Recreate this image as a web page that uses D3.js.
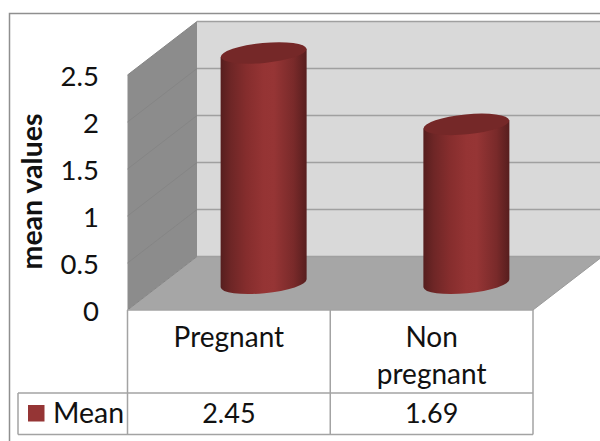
<!DOCTYPE html>
<html>
<head>
<meta charset="utf-8">
<script src="https://cdn.jsdelivr.net/npm/d3@7"></script>
<style>
html,body{margin:0;padding:0;background:#fff}
svg{display:block}
text{font-family:Lato,"Open Sans",sans-serif;fill:#111}
</style>
</head>
<body>
<svg id="chart" width="600" height="441"></svg>
<script>
// Mean values per group
const categories = [["Pregnant"], ["Non", "pregnant"]];
const categoryKeys = ["Pregnant", "Non pregnant"];
const seriesName = "Mean";
const meanValues = [2.45, 1.69];
const valueLabels = ["2.45", "1.69"];
const yTicks = [0, 0.5, 1, 1.5, 2, 2.5];

const svg = d3.select("#chart");
const W = 600, H = 441;

// Projection of the box: front plane, back plane and the depth step between them
const frontLeft = 127.5, frontRight = 533, frontBase = 310, frontTop = 75;
const depthX = 69.5, depthY = -53.5;
const yFront = d3.scaleLinear().domain([0, 2.5]).range([frontBase, frontTop]);
const yBack = d3.scaleLinear().domain([0, 2.5]).range([frontBase + depthY, frontTop + depthY]);
const yMid = d3.scaleLinear().domain([0, 2.5]).range([frontBase + depthY / 2, frontTop + depthY / 2]);
const x = d3.scaleBand().domain(categoryKeys).range([frontLeft, frontRight]);

const line = d3.line();
const grid = "#a3a3a3";

// Outer chart frame, open at the bottom and running off the right edge
svg.append("path").attr("d", line([[W + 5, 13.5], [9.5, 13.5], [9.5, H + 5]]))
  .attr("fill", "none").attr("stroke", "#8f8f8f").attr("stroke-width", 1.5);

// Back wall
svg.append("rect")
  .attr("x", frontLeft + depthX).attr("y", yBack(2.5))
  .attr("width", W - frontLeft - depthX + 5).attr("height", yBack(0) - yBack(2.5))
  .attr("fill", "#d9d9d9");

// Side wall
svg.append("path")
  .attr("d", line([[frontLeft, yFront(2.5)], [frontLeft + depthX, yBack(2.5)], [frontLeft + depthX, yBack(0)], [frontLeft, yFront(0)]]) + "Z")
  .attr("fill", "#8c8c8c");

// Floor
svg.append("path")
  .attr("d", line([[frontLeft, frontBase], [frontLeft + depthX, yBack(0)], [frontRight + depthX, yBack(0)], [frontRight, frontBase]]) + "Z")
  .attr("fill", "#a6a6a6");

// Gridlines along the back wall and down the side wall
svg.append("g").selectAll("line").data(yTicks).join("line")
  .attr("x1", frontLeft + depthX).attr("x2", W + 5)
  .attr("y1", d => yBack(d)).attr("y2", d => yBack(d))
  .attr("stroke", "#a0a0a0").attr("stroke-width", 1.5);
svg.append("g").selectAll("line").data(yTicks).join("line")
  .attr("x1", frontLeft).attr("x2", frontLeft + depthX)
  .attr("y1", d => yFront(d)).attr("y2", d => yBack(d))
  .attr("stroke", "#858585").attr("stroke-width", 1);

// Sloping front edge of the floor on the right
svg.append("path")
  .attr("d", line([[frontRight, frontBase], [frontRight + depthX, yBack(0)]]))
  .attr("fill", "none").attr("stroke", "#9a9a9a").attr("stroke-width", 1);

// Shading across the cylinder body
const defs = svg.append("defs");
const body = defs.append("linearGradient").attr("id", "cylBody");
[[0, "#561e1e"], [0.12, "#6e2626"], [0.3, "#852d2d"], [0.5, "#953434"], [0.62, "#963535"], [0.85, "#792a2a"], [1, "#571e1e"]]
  .forEach(([o, c]) => body.append("stop").attr("offset", o).attr("stop-color", c));

// Cylinders stand half way into the box; their ends are tilted ellipses
const rx = 43, ry = 10, tilt = -5.5;
const t = tilt * Math.PI / 180;
const endDy = rx * Math.sin(t);

const bars = svg.append("g").selectAll("g").data(meanValues).join("g")
  .attr("transform", (d, i) => `translate(${x(categoryKeys[i]) + x.bandwidth() / 2 + depthX / 2},0)`);

bars.append("path")
  .attr("d", d => {
    const yt = yMid(d), yb = yMid(0);
    return `M${-rx},${yt - endDy}L${rx},${yt + endDy}L${rx},${yb + endDy}`
      + `A${rx},${ry} ${tilt} 0 1 ${-rx},${yb - endDy}Z`;
  })
  .attr("fill", "url(#cylBody)");

bars.append("ellipse")
  .attr("rx", rx).attr("ry", ry)
  .attr("transform", d => `translate(0,${yMid(d)}) rotate(${tilt})`)
  .attr("fill", "#752828");

// Value axis labels
const axis = d3.axisLeft(yFront).tickValues(yTicks).tickSize(0).tickPadding(0).tickFormat(d3.format("~g"));
const axisG = svg.append("g").attr("transform", "translate(99,1.5)").call(axis);
axisG.select(".domain").remove();
axisG.selectAll("text").attr("font-size", 27.5).attr("fill", "#111")
  .style("font-family", 'Lato,"Open Sans",sans-serif');

// Axis title
svg.append("text").attr("transform", "translate(42,191.5) rotate(-90)")
  .attr("text-anchor", "middle").attr("font-size", 28.5).attr("font-weight", 700)
  .text("mean values");

// Data table under the plot
const tableRow = 393, tableBottom = 434.5, tableLeft = 18;
const cellEdges = [frontLeft, ...categoryKeys.map(k => x(k) + x.bandwidth())];
const tableLines = [
  [[frontLeft, frontBase], [frontRight, frontBase]],
  [[tableLeft, tableRow], [frontRight, tableRow]],
  [[tableLeft, tableBottom], [frontRight, tableBottom]],
  [[tableLeft, tableRow], [tableLeft, tableBottom]],
  ...cellEdges.map(e => [[e, frontBase], [e, tableBottom]])
];
svg.append("g").selectAll("path").data(tableLines).join("path")
  .attr("d", line).attr("fill", "none").attr("stroke", grid).attr("stroke-width", 1.5);

// Category labels
const cats = svg.append("g").selectAll("text").data(categories).join("text")
  .attr("text-anchor", "middle").attr("font-size", 28);
cats.selectAll("tspan").data((d, i) => d.map(s => ({ s, i }))).join("tspan")
  .attr("x", d => x(categoryKeys[d.i]) + x.bandwidth() / 2)
  .attr("y", (d, j) => 347 + j * 37)
  .text(d => d.s);

// Table values
svg.append("g").selectAll("text").data(valueLabels).join("text")
  .attr("text-anchor", "middle").attr("font-size", 27)
  .attr("x", (d, i) => x(categoryKeys[i]) + x.bandwidth() / 2)
  .attr("y", 423)
  .text(d => d);

// Legend key and series name
svg.append("rect").attr("x", 28).attr("y", 405).attr("width", 16.5).attr("height", 16.5).attr("fill", "#953535");
svg.append("text").attr("x", 53).attr("y", 423).attr("font-size", 28.5).text(seriesName);
</script>
</body>
</html>
